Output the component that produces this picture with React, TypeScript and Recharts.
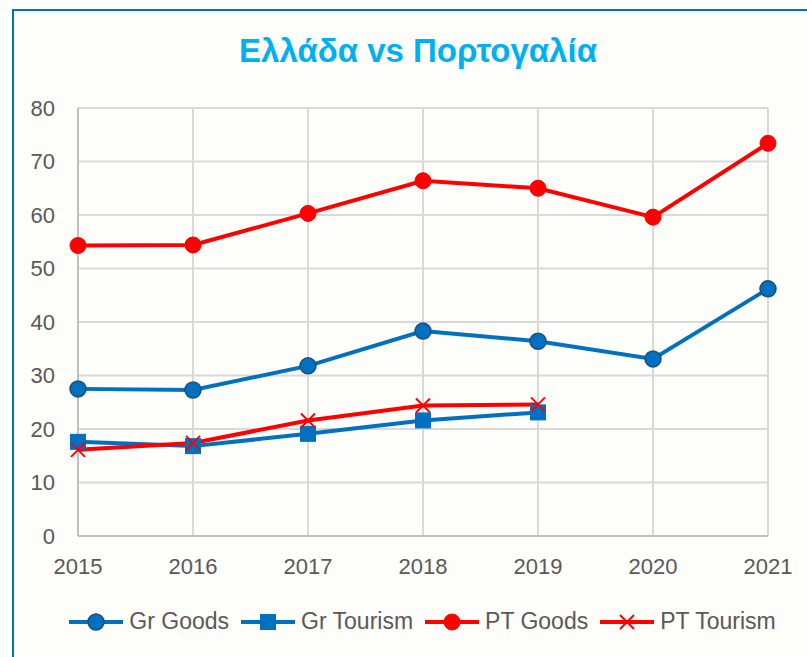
import { LineChart, Line, XAxis, YAxis, CartesianGrid } from "recharts";

const years = ["2015", "2016", "2017", "2018", "2019", "2020", "2021"];
const grGoods = [27.5, 27.3, 31.8, 38.3, 36.4, 33.1, 46.2];
const grTourism = [17.6, 16.8, 19.1, 21.6, 23.1, null, null];
const ptGoods = [54.3, 54.4, 60.3, 66.4, 65.0, 59.6, 73.4];
const ptTourism = [16.1, 17.4, 21.6, 24.4, 24.6, null, null];
const yTicks = [0, 10, 20, 30, 40, 50, 60, 70, 80];

const BLUE = "#0070c0";
const RED = "#ff0000";
const FONT = '"Liberation Sans", Arial, sans-serif';
const TEXT = "#595959";

const data = years.map((year, i) => ({
  year,
  grGoods: grGoods[i],
  grTourism: grTourism[i],
  ptGoods: ptGoods[i],
  ptTourism: ptTourism[i],
}));

type Marker = "blueCircle" | "square" | "redCircle" | "cross";

function MarkerShape({ kind, cx, cy }: { kind: Marker; cx: number; cy: number }) {
  if (kind === "blueCircle")
    return <circle cx={cx} cy={cy} r={8} fill={BLUE} stroke="#1f4e79" strokeWidth={1.5} />;
  if (kind === "redCircle") return <circle cx={cx} cy={cy} r={8} fill={RED} stroke={RED} strokeWidth={1} />;
  if (kind === "square")
    return <rect x={cx - 7.5} y={cy - 7.5} width={15} height={15} fill={BLUE} stroke={BLUE} strokeWidth={1} />;
  return (
    <g stroke={RED} strokeWidth={2}>
      <line x1={cx - 7} y1={cy - 7} x2={cx + 7} y2={cy + 7} />
      <line x1={cx - 7} y1={cy + 7} x2={cx + 7} y2={cy - 7} />
    </g>
  );
}

const series: { key: string; name: string; color: string; marker: Marker }[] = [
  { key: "grGoods", name: "Gr Goods", color: BLUE, marker: "blueCircle" },
  { key: "grTourism", name: "Gr Tourism", color: BLUE, marker: "square" },
  { key: "ptGoods", name: "PT Goods", color: RED, marker: "redCircle" },
  { key: "ptTourism", name: "PT Tourism", color: RED, marker: "cross" },
];

function renderDot(kind: Marker) {
  return (props: any) => {
    const { cx, cy, index } = props;
    if (cx == null || cy == null || props.value == null) return <g key={index} />;
    return (
      <g key={index}>
        <MarkerShape kind={kind} cx={cx} cy={cy} />
      </g>
    );
  };
}

export default function App() {
  return (
    <div style={{ position: "fixed", left: 0, top: 0, width: 807, height: 657, overflow: "hidden", background: "#ffffff" }}>
      <div
        style={{
          position: "absolute",
          left: 12,
          top: 9,
          width: 900,
          height: 760,
          borderLeft: `2px solid ${BLUE}`,
          borderTop: `2px solid ${BLUE}`,
          background: "#fdfdf9",
        }}
      />
      <div
        style={{
          position: "absolute",
          left: 0,
          top: 32,
          width: 836,
          textAlign: "center",
          fontFamily: FONT,
          fontWeight: "bold",
          fontSize: 33,
          color: "#00b0f0",
        }}
      >
        Ελλάδα vs Πορτογαλία
      </div>
      <div style={{ position: "absolute", left: 0, top: 0 }}>
        <LineChart width={807} height={657} data={data} margin={{ top: 108, right: 39, bottom: 121 - 40, left: 0 }}>
          <CartesianGrid stroke="#d9d9d9" strokeWidth={2} />
          <XAxis
            dataKey="year"
            height={40}
            tickLine={false}
            tickSize={0}
            tickMargin={22}
            axisLine={{ stroke: "#bfbfbf", strokeWidth: 2 }}
            tick={{ fontSize: 22, fill: TEXT, fontFamily: FONT }}
            interval={0}
          />
          <YAxis
            width={78}
            domain={[0, 80]}
            ticks={yTicks}
            tickLine={false}
            tickSize={0}
            tickMargin={23}
            axisLine={{ stroke: "#bfbfbf", strokeWidth: 2 }}
            tick={{ fontSize: 22, fill: TEXT, fontFamily: FONT }}
          />
          {series.map((s) => (
            <Line
              key={s.key}
              type="linear"
              dataKey={s.key}
              name={s.name}
              stroke={s.color}
              strokeWidth={4}
              dot={renderDot(s.marker)}
              activeDot={false}
              isAnimationActive={false}
            />
          ))}
        </LineChart>
      </div>
      <div
        style={{
          position: "absolute",
          left: 0,
          top: 608,
          width: 845,
          display: "flex",
          justifyContent: "center",
          alignItems: "center",
          fontFamily: FONT,
          fontSize: 23,
          color: TEXT,
        }}
      >
        {series.map((s, i) => (
          <div
            key={s.key}
            style={{ display: "flex", alignItems: "center", marginRight: i < series.length - 1 ? 12 : 0 }}
          >
            <svg width={54} height={26} style={{ marginRight: 6 }}>
              <line x1={0} y1={13} x2={54} y2={13} stroke={s.color} strokeWidth={4} />
              <MarkerShape kind={s.marker} cx={27} cy={13} />
            </svg>
            <span>{s.name}</span>
          </div>
        ))}
      </div>
    </div>
  );
}
